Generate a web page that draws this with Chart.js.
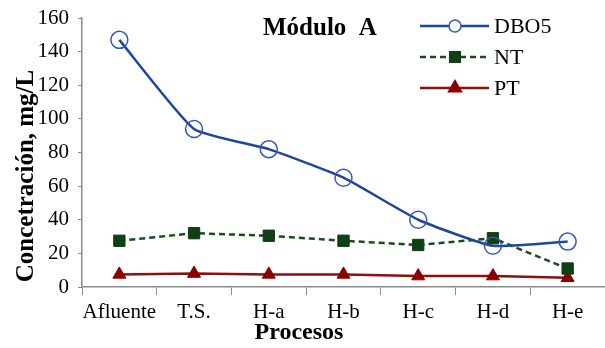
<!DOCTYPE html>
<html>
<head>
<meta charset="utf-8">
<script src="https://cdn.jsdelivr.net/npm/chart.js@4"></script>
<style>
  html, body { margin: 0; padding: 0; background: #fff; }
  #wrap { width: 605px; height: 348px; }
</style>
</head>
<body>
<div id="wrap"><canvas id="chart"></canvas></div>
<script>
const categories = ["Afluente", "T.S.", "H-a", "H-b", "H-c", "H-d", "H-e"];
const dbo5 = [147, 94, 82, 65, 40, 24.5, 27];
const nt = [27.5, 32, 30.5, 27.5, 25, 29, 11];
const pt = [7.5, 8, 7.5, 7.5, 6.5, 6.5, 5.5];
const yTicks = [0, 20, 40, 60, 80, 100, 120, 140, 160];

const serif = "'Liberation Serif', 'DejaVu Serif', serif";

// title, axis titles and legend drawn where the original figure has them
const figureText = {
    id: "figureText",
    afterDraw(chart) {
        const ctx = chart.ctx;
        ctx.save();
        ctx.fillStyle = "#000";
        ctx.textBaseline = "middle";

        ctx.font = "bold 25px " + serif;
        ctx.fillText("Módulo  A", 263, 29);

        ctx.textAlign = "center";
        ctx.font = "bold 24px " + serif;
        ctx.fillText("Procesos", 299, 333);

        ctx.save();
        ctx.translate(27, 176);
        ctx.rotate(-Math.PI / 2);
        ctx.font = "bold 25px " + serif;
        ctx.fillText("Concetración, mg/L", 0, 0);
        ctx.restore();

        ctx.textAlign = "left";
        const rows = [26, 57, 88];
        chart.data.datasets.forEach((ds, i) => {
            const y = rows[i];
            ctx.strokeStyle = ds.borderColor;
            ctx.lineWidth = 2.5;
            ctx.setLineDash(ds.borderDash || []);
            ctx.beginPath();
            ctx.moveTo(420, y);
            ctx.lineTo(489, y);
            ctx.stroke();
            ctx.setLineDash([]);
            ctx.fillStyle = ds.legendFill;
            ctx.strokeStyle = ds.pointBorderColor;
            ctx.lineWidth = 1.5;
            Chart.helpers.drawPoint(ctx, {
                pointStyle: ds.pointStyle,
                radius: ds.legendRadius,
                borderWidth: 1.5
            }, 455, y);
            ctx.font = "22px " + serif;
            ctx.fillStyle = "#000";
            ctx.fillText(ds.label, 494, y + 1);
        });
        ctx.restore();
    }
};

new Chart(document.getElementById("chart"), {
    type: "line",
    data: {
        labels: categories,
        datasets: [
            {
                label: "DBO5",
                data: dbo5,
                borderColor: "#1f469c",
                borderWidth: 2.5,
                tension: 0.15,
                pointStyle: "circle",
                pointRadius: 8.5,
                legendRadius: 6,
                legendFill: "#fff",
                pointBackgroundColor: "rgba(255,255,255,0)",
                pointBorderColor: "#3559b5",
                pointBorderWidth: 1.5
            },
            {
                label: "NT",
                data: nt,
                borderColor: "#1b4a1b",
                borderWidth: 2.5,
                borderDash: [6, 4],
                tension: 0,
                pointStyle: "rect",
                pointRadius: 8,
                legendRadius: 7.5,
                legendFill: "#0f3f12",
                pointBackgroundColor: "#0f3f12",
                pointBorderColor: "#0f3f12",
                pointBorderWidth: 1
            },
            {
                label: "PT",
                data: pt,
                borderColor: "#8e0f0f",
                borderWidth: 2.5,
                tension: 0,
                pointStyle: "triangle",
                pointRadius: 7.5,
                legendRadius: 7.5,
                legendFill: "#8a0000",
                pointBackgroundColor: "#8a0000",
                pointBorderColor: "#8a0000",
                pointBorderWidth: 1
            }
        ]
    },
    options: {
        responsive: true,
        maintainAspectRatio: false,
        animation: false,
        layout: { autoPadding: false, padding: { top: 18, right: -5, left: 0, bottom: 0 } },
        plugins: {
            legend: { display: false },
            tooltip: { enabled: false }
        },
        scales: {
            x: {
                offset: true,
                grid: {
                    offset: true,
                    drawOnChartArea: false,
                    drawTicks: true,
                    tickLength: 8,
                    color: "#8c8c8c"
                },
                border: { color: "#8c8c8c", width: 1.5 },
                ticks: {
                    color: "#000",
                    font: { family: serif, size: 21 },
                    padding: 5,
                    maxRotation: 0,
                    autoSkip: false
                },
                afterFit(scale) {
                    scale.height = 61;
                    scale.paddingLeft = 0;
                    scale.paddingRight = 0;
                }
            },
            y: {
                min: 0,
                max: 160,
                afterBuildTicks(scale) {
                    scale.ticks = yTicks.map(v => ({ value: v }));
                },
                grid: {
                    drawOnChartArea: false,
                    drawTicks: true,
                    tickLength: 4,
                    color: "#8c8c8c"
                },
                border: { color: "#8c8c8c", width: 1.5 },
                ticks: {
                    color: "#000",
                    font: { family: serif, size: 21 },
                    padding: 9
                },
                afterFit(scale) {
                    scale.width = 82;
                    scale.paddingTop = 0;
                    scale.paddingBottom = 0;
                }
            }
        }
    },
    plugins: [figureText]
});
</script>
</body>
</html>
